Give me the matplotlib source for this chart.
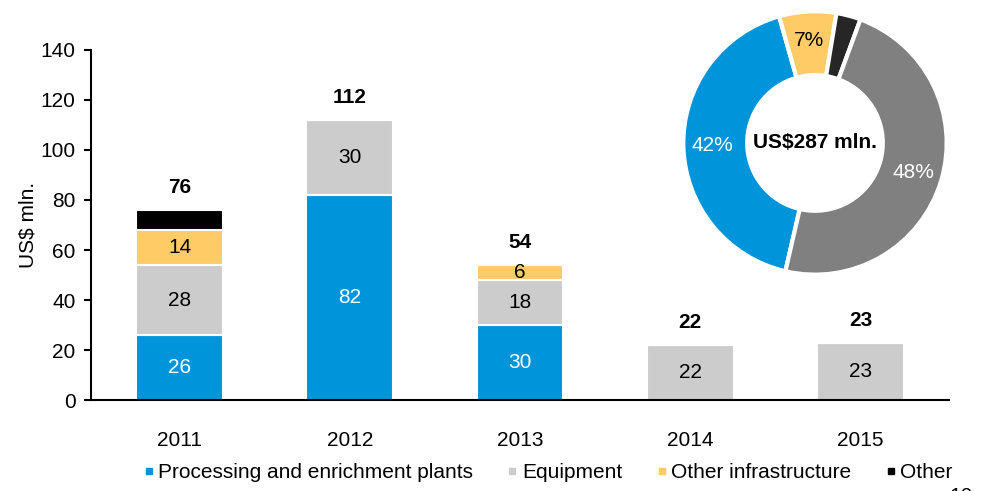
import numpy as np
import matplotlib
matplotlib.use('Agg')
import matplotlib.pyplot as plt
from matplotlib.lines import Line2D

plt.rcParams['font.family'] = ['Liberation Sans', 'DejaVu Sans']

# data
years = ['2011', '2012', '2013', '2014', '2015']
series_names = ['Processing and enrichment plants', 'Equipment', 'Other infrastructure', 'Other']
processing = [26, 82, 30, 0, 0]
equipment = [28, 30, 18, 22, 23]
infrastructure = [14, 0, 6, 0, 0]
other = [8, 0, 0, 0, 0]
totals = [76, 112, 54, 22, 23]

donut_names = ['Processing and enrichment plants', 'Other infrastructure', 'Other', 'Equipment']
donut_pct = [42, 7, 3, 48]
donut_total = 'US$287 mln.'

bar_colors = ['#0095DA', '#CCCCCC', '#FFCB66', '#000000']
donut_colors = ['#0095DA', '#FFCB66', '#262626', '#808080']
label_colors = ['white', 'black', 'black', 'black']
fs = 15

fig = plt.figure(figsize=(9.88, 4.91), dpi=100)
ax = fig.add_axes([0.0921, 0.1853, 0.8684, 0.7129])

x = np.arange(len(years))
bottom = np.zeros(len(years))
for vals, col, lc in zip([processing, equipment, infrastructure, other], bar_colors, label_colors):
    vals = np.array(vals)
    ax.bar(x, vals, 0.51, bottom=bottom, color=col, edgecolor='white', linewidth=1.5)
    for xi, b, v in zip(x, bottom, vals):
        if v >= 6 and col != '#000000':
            ax.text(xi, b + v / 2, str(v), ha='center', va='center', color=lc, fontsize=fs)
    bottom += vals

for xi, t in zip(x, totals):
    ax.text(xi, t + 9, str(t), ha='center', va='center', fontsize=fs, fontweight='bold')

ax.set_xlim(-0.52, 4.52)
ax.set_ylim(0, 140)
ax.set_yticks(range(0, 141, 20))
ax.set_xticks(x)
ax.set_xticklabels(years)
ax.tick_params(axis='y', length=5, width=1.5, labelsize=fs, pad=6)
ax.tick_params(axis='x', length=0, labelsize=fs, pad=22)
ax.spines['top'].set_visible(False)
ax.spines['right'].set_visible(False)
ax.spines['left'].set_linewidth(1.5)
ax.spines['bottom'].set_linewidth(1.5)
ax.set_ylabel('US$ mln.', fontsize=fs, labelpad=2)

handles = [Line2D([], [], marker='s', linestyle='none', markersize=5, color=c) for c in bar_colors]
fig.legend(handles, series_names, loc='center', bbox_to_anchor=(0.553, 0.037), ncol=4,
           frameon=False, fontsize=fs, handletextpad=0.05, columnspacing=1.5, handlelength=0.8)

# donut
dax = fig.add_axes([0.6903, 0.4379, 0.2692, 0.5418])
wedges, _ = dax.pie(donut_pct, colors=donut_colors, startangle=257, counterclock=False,
                    radius=1.0, wedgeprops=dict(width=0.485, edgecolor='white', linewidth=3))
pct_colors = ['white', 'black', None, 'white']
for w, p, pc in zip(wedges, donut_pct, pct_colors):
    if pc is None:
        continue
    ang = np.deg2rad((w.theta1 + w.theta2) / 2)
    r = 0.78
    dax.text(r * np.cos(ang), r * np.sin(ang), f'{p}%', ha='center', va='center',
             color=pc, fontsize=fs)
dax.text(0, 0, donut_total, ha='center', va='center', fontsize=fs, fontweight='bold')
dax.set_xlim(-1.01, 1.01)
dax.set_ylim(-1.01, 1.01)
dax.set_aspect('equal')

fig.text(0.985, -0.012, '10', ha='right', va='center', fontsize=fs)

fig.savefig('out.png', dpi=100)
